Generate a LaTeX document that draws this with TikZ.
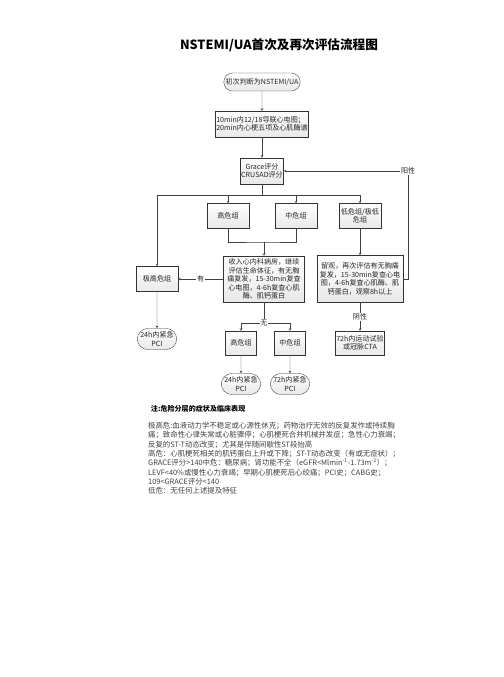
\documentclass[tikz,border=0pt]{standalone}
\usepackage{fontspec}
\setmainfont{Noto Sans CJK SC}
\usetikzlibrary{shapes.misc}
\begin{document}
\begin{tikzpicture}[>=stealth, x=0.04175cm, y=-0.04175cm,
  testo/.style={font=\fontsize{8.4}{10}\selectfont, text=black!85},
  scatola/.style={testo, draw=black!80, top color=white, bottom color=black!9, inner sep=1pt, align=center},
  ovale/.style={scatola, rounded rectangle},
  freccia/.style={->, draw=black!75},
  linea/.style={draw=black!75}]

\useasboundingbox (0,0) rectangle (503,677);

% Titolo
\node[font=\bfseries\fontsize{15}{18}\selectfont] (titolo) at (279,45) {NSTEMI/UA首次及再次评估流程图};

% Prima valutazione
\node[ovale, minimum width=3.26cm, minimum height=0.75cm] (inizio) at (262,82) {初次判断为NSTEMI/UA};
\node[scatola, align=left, minimum width=3.84cm, minimum height=1.09cm] (ecg) at (262,124) {10min内12/18导联心电图；\\20min内心梗五项及心肌酶谱};
\node[scatola, minimum width=1.75cm, minimum height=1.09cm] (grace) at (262,171) {Grace评分\\CRUSAD评分};

% Gruppi di rischio
\node[scatola, minimum width=1.75cm, minimum height=1.04cm] (altissimo) at (157,279) {极高危组};
\node[scatola, minimum width=1.75cm, minimum height=1.04cm] (alto) at (228,216) {高危组};
\node[scatola, minimum width=1.75cm, minimum height=1.04cm] (medio) at (296,216) {中危组};
\node[scatola, minimum width=1.75cm, minimum height=1.04cm] (basso) at (360,216) {低危组/极低\\危组};

% Ricovero e osservazione
\node[scatola, minimum width=3.38cm, minimum height=1.92cm] (ricovero) at (264,279) {收入心内科病房，继续\\评估生命体征，有无胸\\痛复发，15-30min复查\\心电图，4-6h复查心肌\\酶、肌钙蛋白};
\node[scatola, minimum width=3.59cm, minimum height=1.96cm] (osserva) at (360,279) {留观，再次评估有无胸痛\\复发，15-30min复查心电\\图，4-6h复查心肌酶、肌\\钙蛋白，观察8h以上};

% Seconda valutazione
\node[scatola, minimum width=1.3cm, minimum height=1.0cm] (alto2) at (241,343) {高危组};
\node[scatola, minimum width=1.3cm, minimum height=1.0cm] (medio2) at (290,343) {中危组};
\node[scatola, minimum width=1.96cm, minimum height=1.0cm] (prova) at (360,343) {72h内运动试验\\或冠脉CTA};

% PCI
\node[ovale, minimum width=1.71cm, minimum height=0.88cm] (pci1) at (157,339) {24h内紧急\\PCI};
\node[ovale, minimum width=1.71cm, minimum height=0.88cm] (pci2) at (241,384) {24h内紧急\\PCI};
\node[ovale, minimum width=1.71cm, minimum height=0.88cm] (pci3) at (290,384) {72h内紧急\\PCI};

% Frecce
\draw[freccia] (inizio) -- (ecg);
\draw[freccia] (ecg) -- (grace);
\foreach \n in {altissimo, alto, medio, basso}
  \draw[freccia] (grace.south) -- ++(0,11) -| (\n.north);

\coordinate (unione) at (264,242);
\draw[linea] (alto.south) |- (unione) -| (medio.south);
\draw[freccia] (unione) -- (ricovero.north);
\draw[freccia] (basso) -- (osserva);
\draw[freccia] (ricovero) -- node[testo, fill=white, inner sep=1pt] {有} (altissimo);
\draw[freccia] (altissimo) -- (pci1);

\coordinate (nessuno) at (264,323);
\draw[linea] (ricovero.south) -- (nessuno);
\draw[freccia] (nessuno) -| (alto2.north);
\draw[freccia] (nessuno) -| (medio2.north);
\node[testo, fill=white, inner sep=1pt] (no) at (nessuno) {无};
\draw[freccia] (alto2) -- (pci2);
\draw[freccia] (medio2) -- (pci3);

\draw[freccia] (osserva) -- node[testo, fill=white, inner sep=1pt] {阴性} (prova);
\draw[freccia] (osserva.east) -- ++(5,0) |- node[testo, fill=white, inner sep=1pt, pos=0.5] {阳性} (grace.east);

% Note
\node[anchor=west, font=\bfseries\fontsize{8.4}{10}\selectfont] (notatitolo) at (148,409) {注:危险分层的症状及临床表现};
\node[anchor=north west, align=left, inner sep=0pt, font=\fontsize{8.8}{11.1}\selectfont, text=black!75] (note) at (148,422)
 {极高危:血液动力学不稳定或心源性休克；药物治疗无效的反复发作或持续胸\\
  痛；致命性心律失常或心脏骤停；心肌梗死合并机械并发症；急性心力衰竭；\\
  反复的ST-T动态改变；尤其是伴随间歇性ST段抬高\\
  高危：心肌梗死相关的肌钙蛋白上升或下降；ST-T动态改变（有或无症状）；\\
  GRACE评分>140中危：糖尿病；肾功能不全（eGFR<Mlmin\textsuperscript{-1}-1.73m\textsuperscript{-2}）；\\
  LEVF<40\%或慢性心力衰竭；早期心肌梗死后心绞痛；PCI史；CABG史；\\
  109<GRACE评分<140\\
  低危：无任何上述提及特征};

\end{tikzpicture}
\end{document}
